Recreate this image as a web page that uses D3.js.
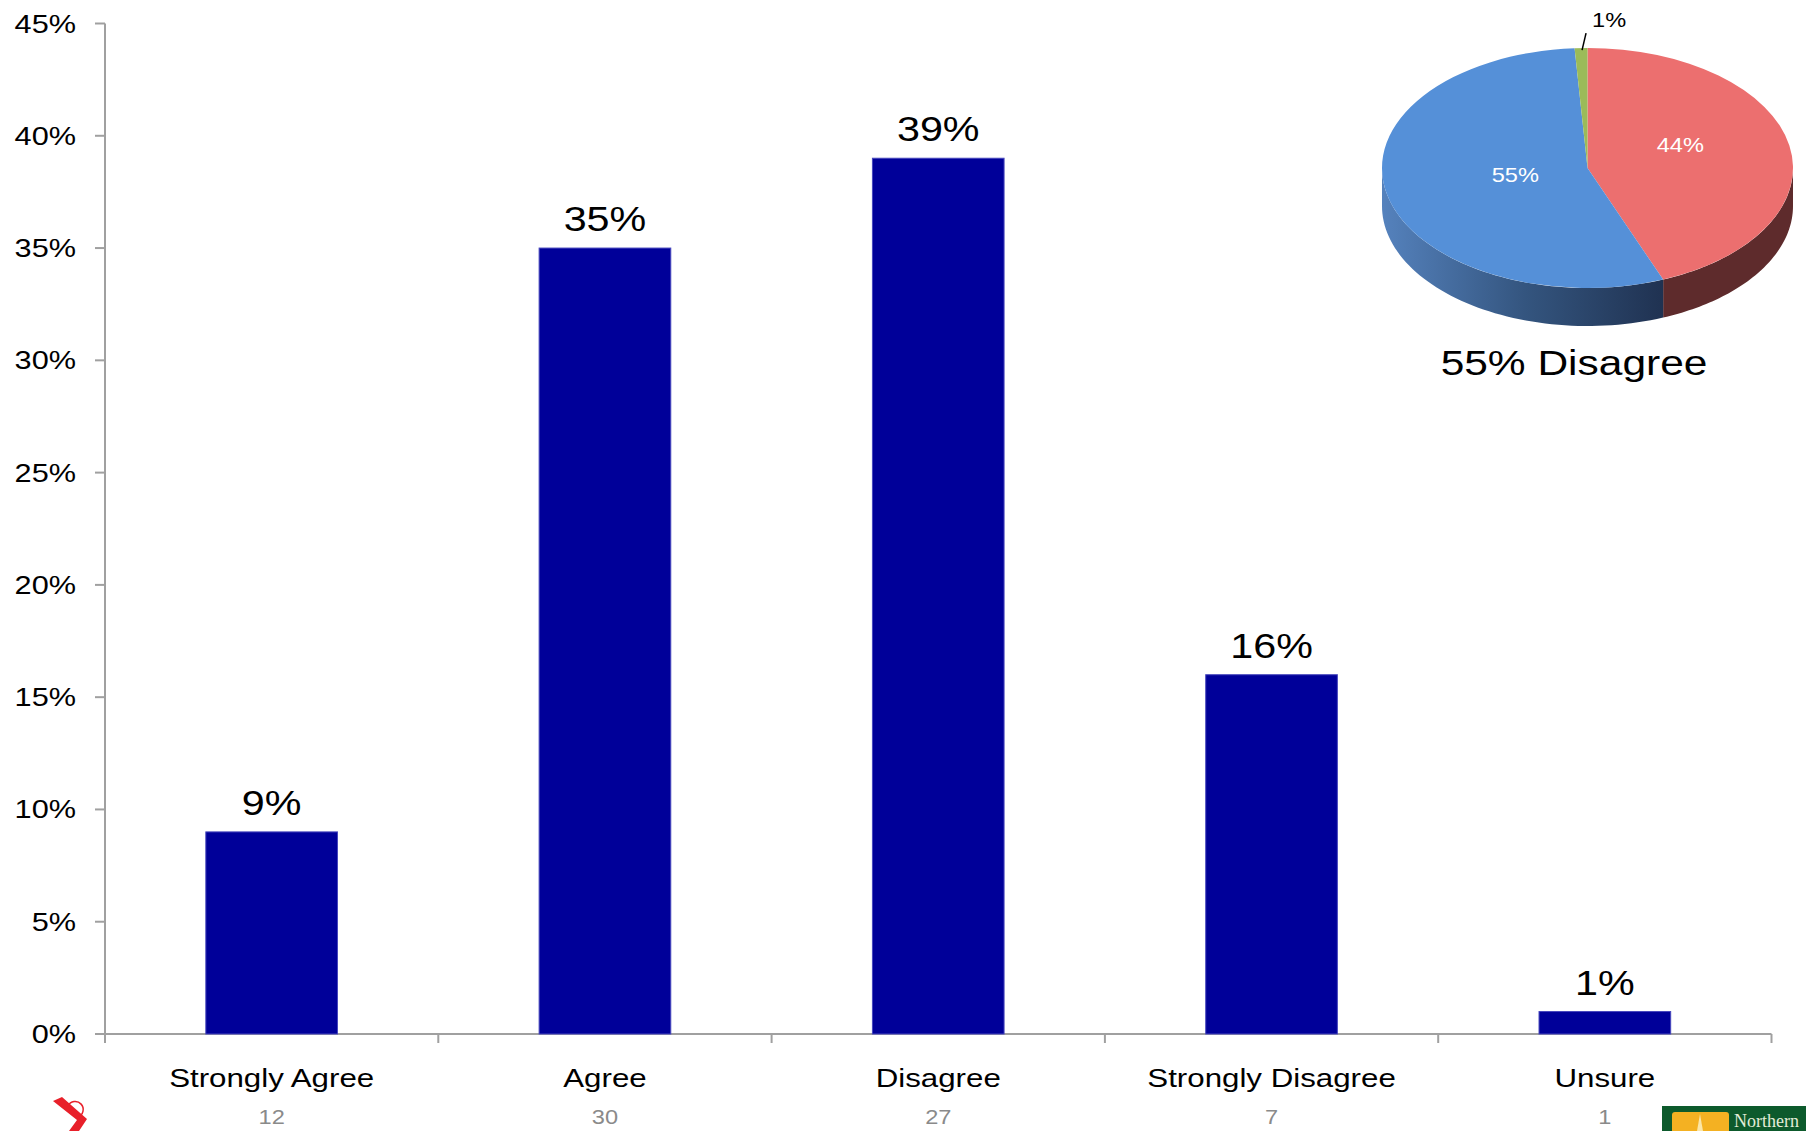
<!DOCTYPE html>
<html>
<head>
<meta charset="utf-8">
<script src="https://cdn.jsdelivr.net/npm/d3@7"></script>
<style>
  body { margin: 0; background: #fff; }
  svg { display: block; }
  text { font-family: "Liberation Sans", Arial, sans-serif; }
</style>
</head>
<body>
<svg id="chart" width="1806" height="1131"></svg>
<script>
// Survey responses
const categories = ["Strongly Agree", "Agree", "Disagree", "Strongly Disagree", "Unsure"];
const shares = [0.09, 0.35, 0.39, 0.16, 0.01];
const counts = [12, 30, 27, 7, 1];
const yTicks = [0, 0.05, 0.10, 0.15, 0.20, 0.25, 0.30, 0.35, 0.40, 0.45];

// Summary pie (grouped answers)
const pieGroups = ["Agree", "Disagree", "Unsure"];
const pieShares = [0.44, 0.55, 0.01];
const pieTopColors = ["#ec6f6f", "#5590d8", "#9bbb59"];
const pieCaption = "55% Disagree";

const svg = d3.select("#chart");
const SX = 1.18; // glyphs are drawn slightly wide

function wideText(parent, x, y, str, opts) {
  return parent.append("text")
    .attr("transform", `translate(${x},${y}) scale(${SX},1)`)
    .attr("text-anchor", opts.anchor || "middle")
    .attr("font-size", opts.size)
    .attr("fill", opts.fill || "#000")
    .text(str);
}

// ---------- bar chart ----------
const x = d3.scaleBand()
  .domain(categories)
  .range([105, 1771.5])
  .paddingInner(0.605)
  .paddingOuter(0.3025);

const y = d3.scaleLinear().domain([0, 0.45]).range([1034, 23.5]);
const pct = d3.format(".0%");
const axisColor = "#a0a0a0";

const axes = svg.append("g");
// y axis line and ticks
axes.append("line")
  .attr("x1", 105).attr("x2", 105)
  .attr("y1", y(0.45)).attr("y2", y(0) + 9)
  .attr("stroke", axisColor).attr("stroke-width", 2);
axes.selectAll(".ytick").data(yTicks).join("line")
  .attr("x1", 95).attr("x2", 105)
  .attr("y1", d => y(d)).attr("y2", d => y(d))
  .attr("stroke", axisColor).attr("stroke-width", 2);
yTicks.forEach(d => wideText(axes, 76, y(d) + 9, pct(d), { anchor: "end", size: 26 }));

// x axis line and boundary ticks
const step = x.step();
axes.append("line")
  .attr("x1", 95).attr("x2", x.range()[1])
  .attr("y1", y(0)).attr("y2", y(0))
  .attr("stroke", axisColor).attr("stroke-width", 2);
axes.selectAll(".xtick").data(d3.range(categories.length + 1)).join("line")
  .attr("x1", i => x.range()[0] + i * step).attr("x2", i => x.range()[0] + i * step)
  .attr("y1", y(0)).attr("y2", y(0) + 9)
  .attr("stroke", axisColor).attr("stroke-width", 2);

// bars
const bars = svg.append("g");
bars.selectAll("rect").data(categories).join("rect")
  .attr("x", (d) => x(d))
  .attr("width", x.bandwidth())
  .attr("y", (d, i) => y(shares[i]))
  .attr("height", (d, i) => y(0) - y(shares[i]))
  .attr("fill", "#000099")
  .attr("stroke", "#4646bd")
  .attr("stroke-width", 1);

// value labels, category labels and counts
categories.forEach((c, i) => {
  const cxBand = x(c) + x.bandwidth() / 2;
  wideText(bars, cxBand, y(shares[i]) - 17, pct(shares[i]), { size: 35 });
  wideText(bars, cxBand, 1087, c, { size: 26.5 });
  wideText(bars, cxBand, 1124, counts[i], { size: 20, fill: "#8a8a8a" });
});

// ---------- 3D pie ----------
const pcx = 1587.5, pcy = 168, rx = 205.5, ry = 120, depth = 38;
const arcs = d3.pie().sort(null).value(d => d)(pieShares);
const pieG = svg.append("g");

const defs = svg.append("defs");
const gBlue = defs.append("linearGradient").attr("id", "sideBlue")
  .attr("gradientUnits", "userSpaceOnUse")
  .attr("x1", pcx - rx).attr("x2", pcx + 80).attr("y1", 0).attr("y2", 0);
gBlue.append("stop").attr("offset", 0).attr("stop-color", "#5582bd");
gBlue.append("stop").attr("offset", 0.5).attr("stop-color", "#34557f");
gBlue.append("stop").attr("offset", 1).attr("stop-color", "#1f3150");
const sideFills = ["#5e2b2c", "url(#sideBlue)", "#6f8a3e"];

const pt = (a, dy) => [pcx + rx * Math.sin(a), pcy - ry * Math.cos(a) + dy];
const line = d3.line();
arcs.forEach((a, i) => {
  const s = Math.max(a.startAngle, Math.PI / 2);
  const e = Math.min(a.endAngle, 3 * Math.PI / 2);
  if (s >= e) return;
  const n = 60;
  const top = d3.range(n + 1).map(k => pt(s + (e - s) * k / n, 0));
  const bottom = d3.range(n + 1).map(k => pt(e - (e - s) * k / n, depth));
  pieG.append("path")
    .attr("d", line(top.concat(bottom)) + "Z")
    .attr("fill", sideFills[i]);
});

const arcGen = d3.arc().innerRadius(0).outerRadius(rx);
const topFace = pieG.append("g")
  .attr("transform", `translate(${pcx},${pcy}) scale(1,${ry / rx})`);
topFace.selectAll("path").data(arcs).join("path")
  .attr("d", arcGen)
  .attr("fill", (d, i) => pieTopColors[i]);

// slice labels
const labelAt = (a, f) => [pcx + rx * f * Math.sin(a), pcy - ry * f * Math.cos(a)];
const mid = a => (a.startAngle + a.endAngle) / 2;
const pRed = labelAt(mid(arcs[0]), 0.46);
const pBlue = labelAt(mid(arcs[1]), 0.36);
wideText(pieG, pRed[0], pRed[1] - 6, pct(pieShares[0]), { size: 20, fill: "#fff" });
wideText(pieG, pBlue[0], pBlue[1] + 5, pct(pieShares[1]), { size: 20, fill: "#fff" });

// small-slice leader and label
const g0 = pt(mid(arcs[2]), 0);
pieG.append("line")
  .attr("x1", g0[0] + 1).attr("y1", g0[1] + 2)
  .attr("x2", g0[0] + 5).attr("y2", g0[1] - 15)
  .attr("stroke", "#000").attr("stroke-width", 1.5);
wideText(pieG, g0[0] + 11, 27, pct(pieShares[2]), { anchor: "start", size: 20 });

wideText(pieG, 1574, 375, pieCaption, { size: 36 });

// ---------- footer marks ----------
const foot = svg.append("g");
foot.append("path")
  .attr("d", "M53,1101 L62,1097 L87,1119 L79,1131 L69,1131 L77,1120 Z")
  .attr("fill", "#e8202a");
foot.append("path")
  .attr("d", "M68,1106 A8,8 0 1 1 78,1117")
  .attr("fill", "none").attr("stroke", "#e8202a").attr("stroke-width", 1.5);
foot.append("rect").attr("x", 1662).attr("y", 1106).attr("width", 144).attr("height", 25)
  .attr("fill", "#0d5a2c");
foot.append("rect").attr("x", 1672).attr("y", 1112).attr("width", 57).attr("height", 22)
  .attr("rx", 3).attr("fill", "#f4b122");
foot.append("path")
  .attr("d", "M1700,1114 L1697,1131 L1703,1131 Z")
  .attr("fill", "#fbe6a8");
foot.append("text").attr("x", 1734).attr("y", 1127)
  .style("font-family", "'Liberation Serif', 'DejaVu Serif', serif")
  .attr("font-size", 18).attr("fill", "#e4ecd8")
  .text("Northern");
</script>
</body>
</html>
